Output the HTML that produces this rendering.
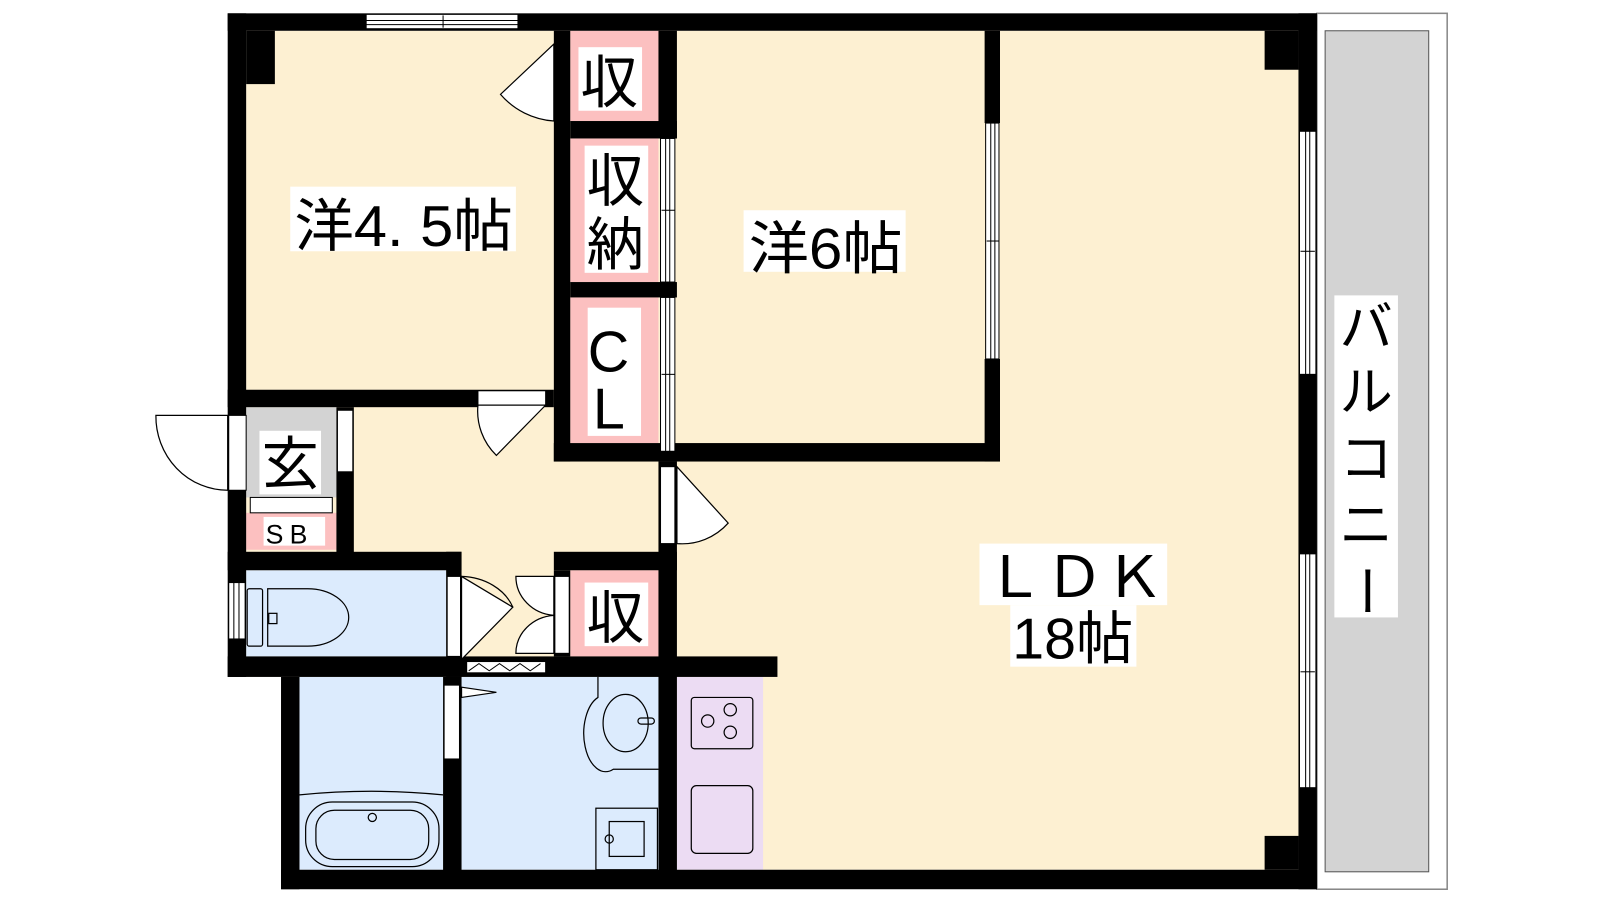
<!DOCTYPE html>
<html><head><meta charset="utf-8"><style>
html,body{margin:0;padding:0;background:#fff;width:1600px;height:900px;overflow:hidden}
svg text{font-family:"Liberation Sans","Noto Sans CJK JP",sans-serif;fill:#000}
</style></head><body>
<svg width="1600" height="900" viewBox="0 0 1560 877.5" preserveAspectRatio="none" xmlns="http://www.w3.org/2000/svg">
<!-- balcony -->
<rect x="1284" y="13" width="127" height="854" fill="#fff" stroke="#888" stroke-width="1.5"/>
<rect x="1292" y="30" width="101" height="820" fill="#d3d3d3" stroke="#555" stroke-width="1"/>
<!-- floors -->
<rect x="240" y="30" width="1026" height="818" fill="#fdf0d2"/>
<rect x="240" y="397" width="88" height="88" fill="#d3d3d3"/>
<rect x="240" y="556" width="195" height="84" fill="#dcebfd"/>
<rect x="292" y="660" width="140" height="188" fill="#dcebfd"/>
<rect x="450" y="660" width="192" height="188" fill="#dcebfd"/>
<rect x="660" y="660" width="84" height="188" fill="#ecdcf3"/>
<rect x="222" y="660" width="52" height="210" fill="#fff"/>
<!-- pink closets -->
<rect x="556" y="30" width="86" height="88" fill="#fcc0c0"/>
<rect x="556" y="135" width="86" height="140" fill="#fcc0c0"/>
<rect x="556" y="290" width="86" height="142" fill="#fcc0c0"/>
<rect x="556" y="556" width="86" height="84" fill="#fcc0c0"/>
<rect x="240" y="500" width="88" height="36" fill="#fcc0c0"/>
<g fill="#000">
<rect x="222" y="13" width="1062" height="17"/>
<rect x="222" y="13" width="18" height="647"/>
<rect x="240" y="30" width="28" height="52"/>
<rect x="274" y="660" width="18" height="207"/>
<rect x="274" y="848" width="1010" height="19"/>
<rect x="1266" y="13" width="18" height="854"/>
<rect x="1233" y="30" width="33" height="38"/>
<rect x="1233" y="815" width="33" height="33"/>
<rect x="540" y="30" width="16" height="420"/>
<rect x="642" y="30" width="18" height="105"/>
<rect x="556" y="118" width="104" height="17"/>
<rect x="556" y="275" width="104" height="15"/>
<rect x="540" y="432" width="435" height="18"/>
<rect x="960" y="30" width="15" height="90"/>
<rect x="960" y="350" width="15" height="100"/>
<rect x="222" y="380" width="318" height="17"/>
<rect x="328" y="397" width="17" height="143"/>
<rect x="222" y="538" width="228" height="18"/>
<rect x="435" y="538" width="15" height="122"/>
<rect x="540" y="538" width="120" height="18"/>
<rect x="540" y="556" width="16" height="84"/>
<rect x="642" y="450" width="18" height="410"/>
<rect x="222" y="640" width="536" height="20"/>
<rect x="432" y="660" width="18" height="190"/>
</g>
<g fill="#fff" stroke="#000" stroke-width="1">
<rect x="1267" y="128" width="16" height="237"/>
<rect x="1267" y="540" width="16" height="228"/>
<rect x="961" y="120" width="13" height="230"/>
<rect x="644" y="135" width="14" height="140"/>
<rect x="644" y="290" width="14" height="150"/>
<rect x="357" y="14" width="148" height="14"/>
<rect x="466" y="381" width="66" height="14"/>
<rect x="223" y="405" width="17" height="73"/>
<rect x="329" y="400" width="15" height="60"/>
<rect x="244" y="485" width="80" height="15"/>
<rect x="223" y="568" width="16" height="55"/>
<rect x="436" y="562" width="13" height="78"/>
<rect x="541" y="562" width="14" height="75"/>
<rect x="644" y="455" width="14" height="75"/>
<rect x="433" y="668" width="15" height="72"/>
<rect x="455" y="645" width="77" height="11"/>
</g>
<g stroke="#000" stroke-width="1" fill="none">
<line x1="1273" y1="128" x2="1273" y2="365"/><line x1="1277" y1="128" x2="1277" y2="365"/>
<line x1="1273" y1="540" x2="1273" y2="768"/><line x1="1277" y1="540" x2="1277" y2="768"/>
<line x1="1268" y1="245" x2="1282" y2="245"/><line x1="1268" y1="655" x2="1282" y2="655"/>
<line x1="966" y1="120" x2="966" y2="350"/><line x1="970" y1="120" x2="970" y2="350"/>
<line x1="962" y1="235" x2="974" y2="235"/>
<line x1="649" y1="135" x2="649" y2="440"/><line x1="653" y1="135" x2="653" y2="440"/>
<line x1="645" y1="205" x2="658" y2="205"/><line x1="645" y1="365" x2="658" y2="365"/>
<line x1="357" y1="20" x2="505" y2="20"/><line x1="357" y1="24" x2="505" y2="24"/>
<line x1="432" y1="15" x2="432" y2="27"/>
<line x1="228" y1="568" x2="228" y2="623"/><line x1="233" y1="568" x2="233" y2="623"/>
<polyline points="457,654 467,647 477,654 487,647 497,654 507,647 517,654 527,647"/>
</g>
<g fill="#fff" stroke="#000" stroke-width="1.2">
<path d="M540,43 L540,118 A75,75 0 0 1 488,92 Z"/>
<path d="M532,395 L484,444 A60,60 0 0 1 466,395 Z"/>
<path d="M222,405 L152,405 A70,72 0 0 0 222,478 Z"/>
<path d="M450,562 L500,592 L450,643 Z"/>
<path d="M450,562 A55,45 0 0 1 500,592" fill="none"/>
<path d="M540,562 L503,562 A40,38 0 0 0 540,600 Z"/>
<path d="M540,600 A40,37 0 0 0 503,637 L540,637 Z"/>
<path d="M660,455 L710,510 A60,60 0 0 1 660,530 Z"/>
<path d="M450,680 L484,675 L450,670 Z"/>
</g>
<g fill="none" stroke="#000" stroke-width="1.2">
<rect x="241" y="574" width="15" height="56" rx="2"/>
<path d="M261,574 L300,574 A40,28 0 0 1 300,630 L261,630 Z"/>
<rect x="262" y="598" width="8" height="10"/>
<path d="M583,660 L583,680 A20,35 0 0 0 598,750 L642,750"/>
<ellipse cx="610" cy="705" rx="22" ry="28"/>
<rect x="622" y="700" width="16" height="6" rx="3"/>
<rect x="581" y="788" width="60" height="60"/>
<rect x="594" y="801" width="34" height="34"/>
<circle cx="594" cy="818" r="4"/>
<path d="M292,775 Q362,768 432,775"/>
<rect x="298" y="782" width="130" height="63" rx="26"/>
<rect x="308" y="790" width="110" height="48" rx="18"/>
<circle cx="363" cy="797" r="4"/>
<rect x="674" y="680" width="60" height="50" rx="3"/>
<circle cx="690" cy="703" r="6"/><circle cx="712" cy="692" r="6"/><circle cx="712" cy="714" r="6"/>
<rect x="674" y="766" width="60" height="66" rx="5"/>
</g>
<g fill="#fff">
<rect x="283" y="182" width="220" height="63"/>
<rect x="725" y="205" width="158" height="60"/>
<rect x="955" y="530" width="183" height="60"/>
<rect x="985" y="590" width="123" height="60"/>
<rect x="1301" y="288" width="62" height="314"/>
<rect x="564" y="46" width="62" height="62"/>
<rect x="570" y="142" width="62" height="124"/>
<rect x="573" y="300" width="52" height="125"/>
<rect x="570" y="568" width="62" height="62"/>
<rect x="253" y="420" width="60" height="62"/>
<rect x="257" y="504" width="60" height="28"/>
</g>
<g font-size="56">
<text x="287" y="240" textLength="213" lengthAdjust="spacingAndGlyphs">洋4. 5帖</text>
<text x="730" y="262" textLength="150" lengthAdjust="spacingAndGlyphs">洋6帖</text>
<text x="960" y="582" textLength="175" lengthAdjust="spacingAndGlyphs">ＬＤＫ</text>
<text x="987" y="642" textLength="118" lengthAdjust="spacingAndGlyphs">18帖</text>
<text x="566" y="100">収</text>
<text x="572" y="196">収</text>
<text x="572" y="258">納</text>
<text x="573" y="362">C</text>
<text x="578" y="418">L</text>
<text x="572" y="622">収</text>
<text x="255" y="472">玄</text>
</g>
<text x="259" y="530" font-size="26" letter-spacing="6">SB</text>
<g font-size="52" text-anchor="middle">
<text x="1332" y="337">バ</text>
<text x="1332" y="400">ル</text>
<text x="1332" y="465">コ</text>
<text x="1332" y="530">ニ</text>
<text x="1332" y="594" transform="rotate(90 1332 576)">ー</text>
</g>
</svg>
</body></html>
